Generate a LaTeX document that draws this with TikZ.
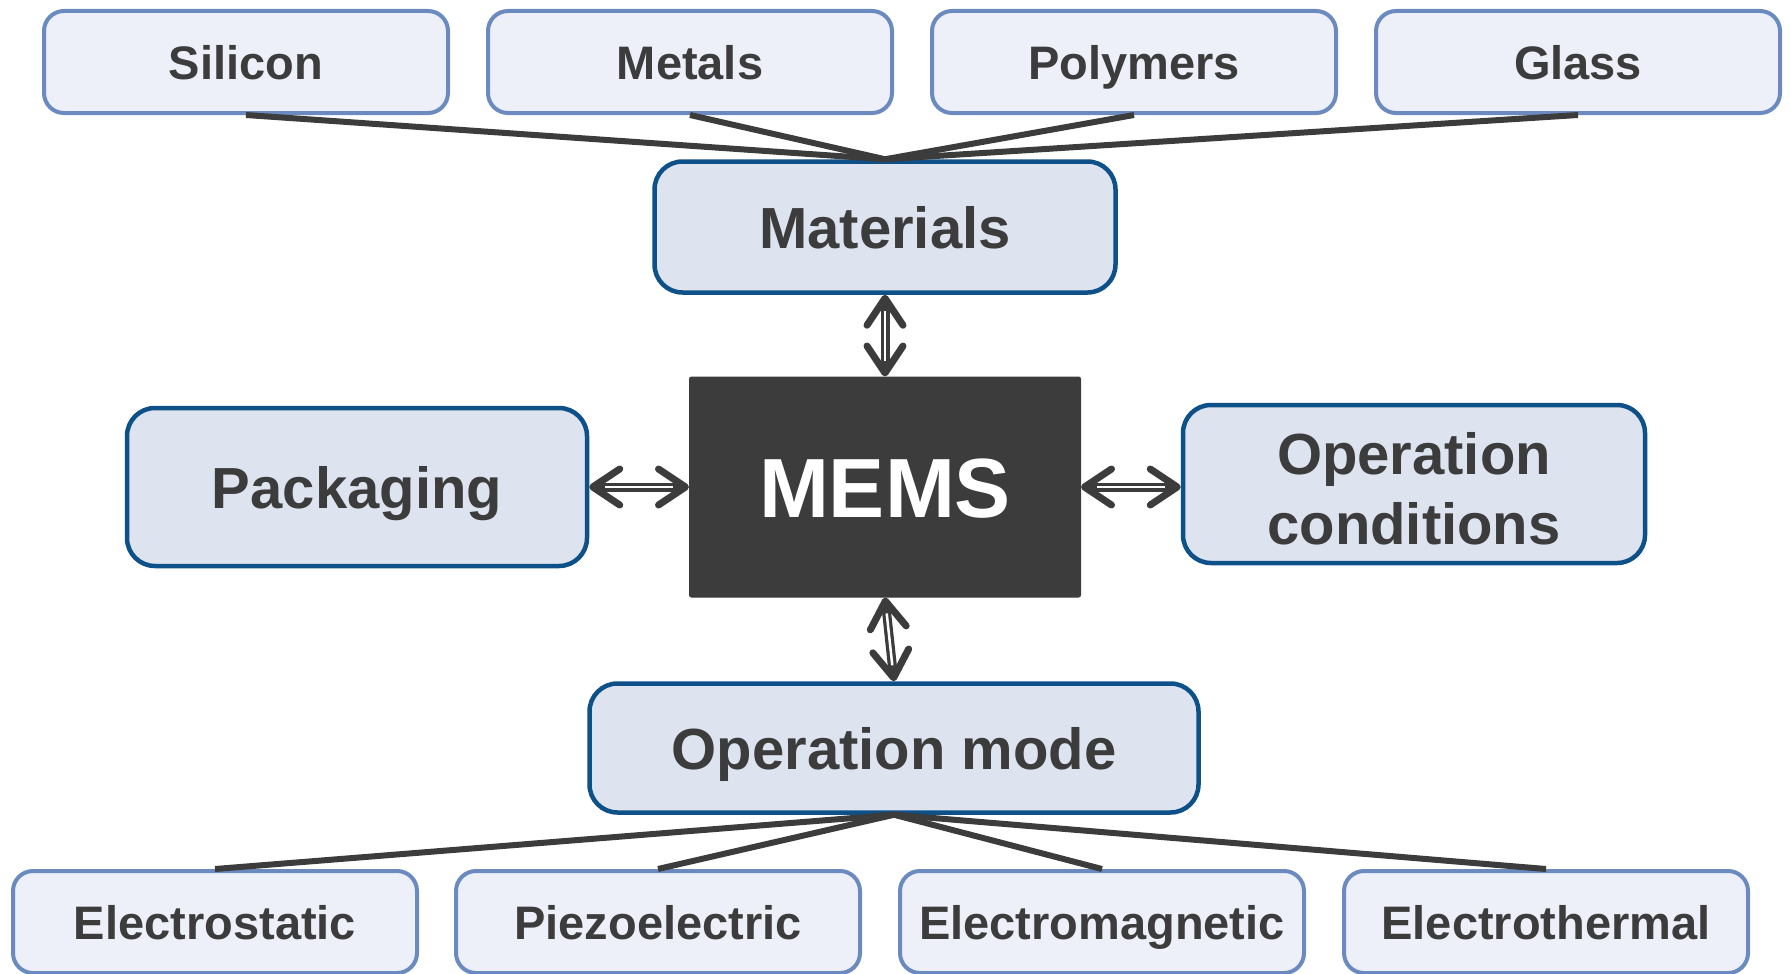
\documentclass[tikz,border=0pt]{standalone}
\usepackage{fontspec}
\setmainfont{Liberation Sans}
\usetikzlibrary{arrows.meta}
\definecolor{txt}{HTML}{3C3C3C}
\definecolor{lightfill}{HTML}{EDF0F8}
\definecolor{lightline}{HTML}{6A8AC0}
\definecolor{mainfill}{HTML}{DDE3EF}
\definecolor{mainline}{HTML}{0E5088}
\tikzset{
  leaf/.style={draw=lightline, fill=lightfill, line width=4pt, rounded corners=20pt,
    minimum width=404pt, minimum height=102pt, inner sep=0pt, text=txt,
    text height=34pt, text depth=0pt,
    font=\fontsize{47}{56}\selectfont\bfseries},
  topic/.style={draw=mainline, fill=mainfill, line width=4.5pt, rounded corners=28pt,
    inner sep=0pt, text=txt, align=center,
    font=\fontsize{58}{70}\selectfont\bfseries},
  onerow/.style={text height=42pt, text depth=0pt},
  core/.style={fill=txt, draw=txt, line width=1pt, rounded corners=2pt, inner sep=0pt,
    minimum width=391pt, minimum height=220pt, text=white,
    text height=61pt, text depth=0pt,
    font=\fontsize{84}{100}\selectfont\bfseries},
  branch/.style={draw=txt, line width=6pt},
  duplex/.style={draw=txt, line width=9pt,
    {Straight Barb[length=27pt, width=36pt, line width=7pt, round]}-{Straight Barb[length=27pt, width=36pt, line width=7pt, round]}},
  stripe/.style={draw=white, line width=2.5pt, shorten <=16pt, shorten >=16pt}
}
\begin{document}
\begin{tikzpicture}[x=1pt, y=-1pt]
\useasboundingbox (0,0) rectangle (1791,974);
% top leaves
\node[leaf] (si) at (246,62) {Silicon};
\node[leaf] (me) at (690,62) {Metals};
\node[leaf] (po) at (1134,62) {Polymers};
\node[leaf] (gl) at (1578,62) {Glass};
% topics
\node[topic, onerow, minimum width=461pt, minimum height=131pt] (mat) at (885,227) {Materials};
\node[core] (mems) at (885,487) {MEMS};
\node[topic, onerow, minimum width=460pt, minimum height=158pt] (pack) at (357,487) {Packaging};
\node[topic, text height=121pt, text depth=0pt, minimum width=462pt, minimum height=158pt] (opc) at (1414,484) {Operation\\conditions};
\node[topic, onerow, minimum width=609pt, minimum height=129pt] (opm) at (894,748) {Operation mode};
% bottom leaves
\node[leaf] (es) at (215,922) {Electrostatic};
\node[leaf] (pz) at (658,922) {Piezoelectric};
\node[leaf] (em) at (1102,922) {Electromagnetic};
\node[leaf] (et) at (1546,922) {Electrothermal};
% branches
\foreach \n in {si,me,po,gl} \draw[branch] (\n.south) -- (mat.north);
\foreach \n in {es,pz,em,et} \draw[branch] (\n.north) -- (opm.south);
% double arrows
\draw[duplex] (mat.south) -- (mems.north);
\draw[stripe] (mat.south) -- (mems.north);
\draw[duplex] (mems.south) -- (opm.north);
\draw[stripe] (mems.south) -- (opm.north);
\draw[duplex] (pack.east) -- (mems.west);
\draw[stripe] (pack.east) -- (mems.west);
\coordinate (oce) at (mems.east -| opc.west);
\draw[duplex] (mems.east) -- (oce);
\draw[stripe] (mems.east) -- (oce);
\end{tikzpicture}
\end{document}
